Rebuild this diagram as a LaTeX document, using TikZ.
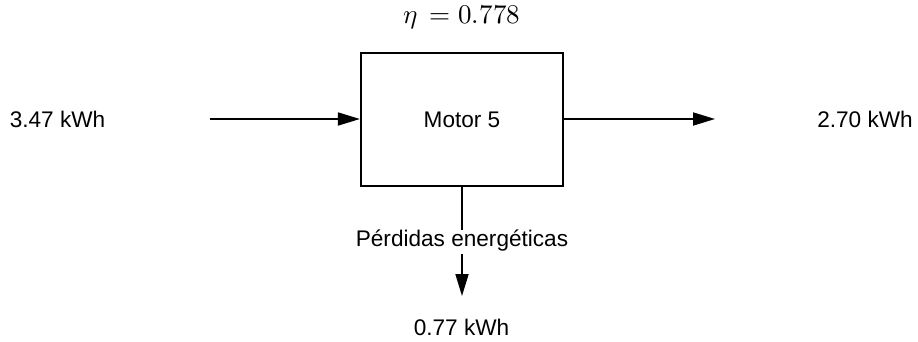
\documentclass[tikz,border=0pt]{standalone}
\usepackage{fontspec}
\usepackage{unicode-math}
\setmainfont{Liberation Sans}
\setmathfont{Latin Modern Math}
\usetikzlibrary{arrows.meta}
\begin{document}
\begin{tikzpicture}[x=1pt,y=-1pt,
  lbl/.style={font=\fontsize{22.6}{26}\selectfont, inner sep=0pt},
  flow/.style={line width=1.8pt, -{Triangle[length=22pt,width=13pt]}},
  plain/.style={line width=1.8pt}]
\useasboundingbox (0,0) rectangle (918,341);
\node[draw, line width=2.2pt, minimum width=202pt, minimum height=133pt, inner sep=0pt,
  font=\fontsize{22.6}{26}\selectfont] (motor) at (462,119.5) {Motor 5};
\node[inner sep=0pt, font=\fontsize{27}{30}\selectfont] (eta) at (462,17) {$\eta\ \,{=}\;0.778$};
\node[lbl] (in) at (57.5,119) {3.47 kWh};
\node[lbl] (out) at (865,119) {2.70 kWh};
\node[lbl] (loss) at (462,241) {Pérdidas energéticas};
\node[lbl] (lossv) at (461.5,327) {0.77 kWh};
\coordinate (inS) at (210,119);
\coordinate (outE) at (715,119);
\coordinate (lossA) at (462,230);
\coordinate (lossB) at (462,254);
\coordinate (lossC) at (462,296);
\draw[flow] (inS) -- (motor.west |- inS);
\draw[flow] (motor.east |- outE) -- (outE);
\draw[plain] (motor.south) -- (lossA);
\draw[flow] (lossB) -- (lossC);
\end{tikzpicture}
\end{document}
